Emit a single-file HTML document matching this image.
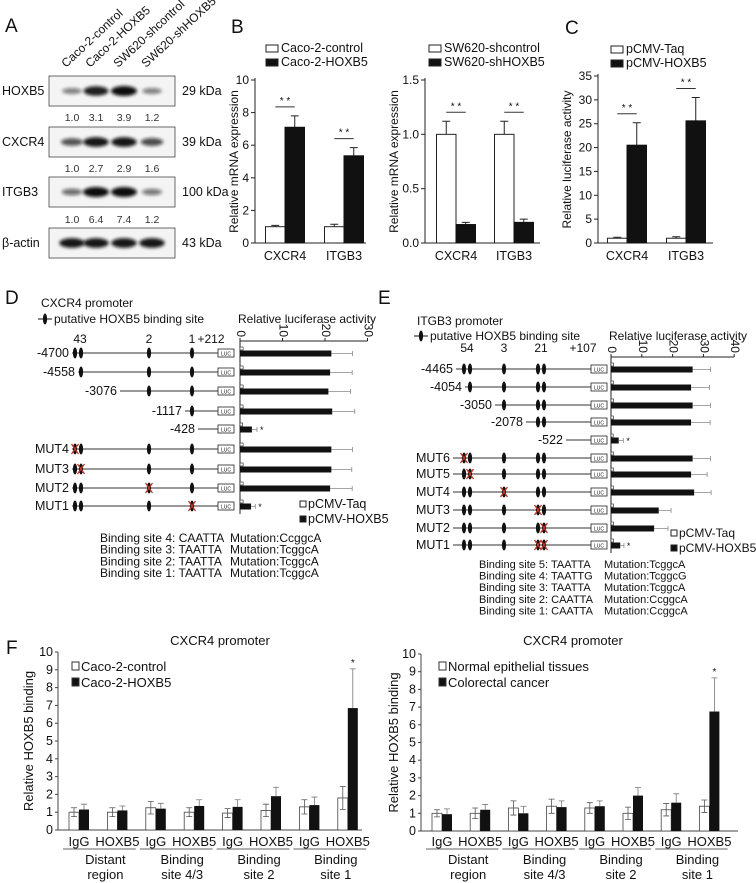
<!DOCTYPE html>
<html><head><meta charset="utf-8">
<style>
html,body{margin:0;padding:0;background:#fff;}
svg{display:block;font-family:"Liberation Sans",Arial,sans-serif;}
</style></head>
<body>
<svg id="fig" xmlns="http://www.w3.org/2000/svg" width="756" height="883" viewBox="0 0 756 883">
<defs><filter id="blur" x="-30%" y="-80%" width="160%" height="260%"><feGaussianBlur stdDeviation="1.6"/></filter></defs>
<rect x="0" y="0" width="756" height="883" fill="#fff"/>
<g font-size="19" fill="#111">
<text x="5" y="32">A</text>
<text x="231" y="33">B</text>
<text x="565" y="34">C</text>
<text x="5" y="304">D</text>
<text x="378" y="304">E</text>
<text x="6" y="654">F</text>
</g>
<g id="blot"></g>
<g id="chartB1"></g>
<g id="chartB2"></g>
<g id="chartC"></g>
<g id="chartD"></g>
<g id="chartE"></g>
<g id="chartF1"></g>
<g id="chartF2"></g>
</svg>
<script>
// ---------- data ----------
const blotLanes = ["Caco-2-control","Caco-2-HOXB5","SW620-shcontrol","SW620-shHOXB5"];
const blotRows = ["HOXB5","CXCR4","ITGB3","β-actin"];
const blotKda = ["29 kDa","39 kDa","100 kDa","43 kDa"];
const blotQuant = [["1.0","3.1","3.9","1.2"],["1.0","2.7","2.9","1.6"],["1.0","6.4","7.4","1.2"]];
const blotIntensity = [[0.35,0.9,1.0,0.35],[0.6,0.95,0.95,0.65],[0.45,1.0,1.0,0.4],[0.95,0.95,0.95,0.95]];

const geneCats = ["CXCR4","ITGB3"];
const b1Ctrl = [1.0,1.0], b1CtrlErr = [0.08,0.15], b1Treat = [7.1,5.35], b1TreatErr = [0.7,0.5];
const b1Ticks = [0,2,4,6,8,10];
const b2Ctrl = [1.0,1.0], b2CtrlErr = [0.12,0.12], b2Treat = [0.17,0.19], b2TreatErr = [0.02,0.03];
const b2Ticks = [0,0.5,1.0,1.5];
const cCtrl = [1.0,1.0], cCtrlErr = [0.2,0.3], cTreat = [20.5,25.6], cTreatErr = [4.7,4.9];
const cTicks = [0,5,10,15,20,25,30,35];

const dLabels = ["-4700","-4558","-3076","-1117","-428","MUT4","MUT3","MUT2","MUT1"];
const dTaq = [0.5,0.5,0.5,0.5,0.4,0.5,0.5,0.5,0.5];
const dHox = [21.5,21.2,20.8,21.7,2.8,21.5,21.5,21.2,2.6];
const dHoxErr = [5.0,5.2,5.2,5.3,1.2,5.0,4.8,5.2,1.0];
const dTicks = [0,10,20,30];

const eLabels = ["-4465","-4054","-3050","-2078","-522","MUT6","MUT5","MUT4","MUT3","MUT2","MUT1"];
const eTaq = [0.5,0.5,0.5,0.5,0.4,0.5,0.5,0.5,0.5,0.5,0.5];
const eHox = [26.5,26.0,26.5,26.0,2.5,26.5,26.0,27.0,15.5,14.0,3.0];
const eHoxErr = [5.8,6.0,5.8,6.2,1.5,5.8,5.2,5.5,4.0,4.5,1.2];
const eTicks = [0,10,20,30,40];

const fCats = ["IgG","HOXB5","IgG","HOXB5","IgG","HOXB5","IgG","HOXB5"];
const fGroups = [["Distant","region"],["Binding","site 4/3"],["Binding","site 2"],["Binding","site 1"]];
const f1Ctrl = [1.0,1.0,1.25,1.0,0.95,1.1,1.3,1.8];
const f1CtrlErr = [0.25,0.25,0.35,0.25,0.25,0.35,0.4,0.65];
const f1Treat = [1.15,1.1,1.2,1.35,1.3,1.9,1.4,6.85];
const f1TreatErr = [0.3,0.25,0.3,0.35,0.4,0.5,0.45,2.2];
const f2Ctrl = [1.0,1.0,1.3,1.4,1.3,1.0,1.2,1.4];
const f2CtrlErr = [0.2,0.3,0.4,0.4,0.3,0.35,0.35,0.35];
const f2Treat = [0.95,1.2,1.0,1.35,1.4,2.0,1.6,6.75];
const f2TreatErr = [0.3,0.3,0.4,0.35,0.3,0.45,0.5,1.9];
const fTicks = [0,1,2,3,4,5,6,7,8,9,10];

// ---------- helpers ----------
const NS = "http://www.w3.org/2000/svg";
function mk(parent, tag, attrs, txt){
  const el = document.createElementNS(NS, tag);
  for (const k in attrs) el.setAttribute(k, attrs[k]);
  if (txt !== undefined) el.textContent = txt;
  parent.appendChild(el);
  return el;
}
function named(el, name){
  
  
  return el;
}

// ---------- Panel A ----------
(function(){
  const g = document.getElementById('blot');
  const laneX = [72,96,124,152];
  const boxY = [76,127,177,228];
  const quantY = [121,172,223];
  blotLanes.forEach((t,i)=>{
    const el = mk(g,'text',{x:laneX[i]-6,y:68,'font-size':12,transform:`rotate(-43 ${laneX[i]-6} 68)`,fill:'#111'},t);
    named(el,'lane-label-'+i);
  });
  blotRows.forEach((r,i)=>{
    const box = mk(g,'rect',{x:49,y:boxY[i],width:126,height:30,fill:'#f4f4f4',stroke:'#444','stroke-width':0.8});
    named(box,'blot-box-'+i);
    blotIntensity[i].forEach((v,j)=>{
      const b = mk(g,'ellipse',{cx:laneX[j],cy:boxY[i]+15,rx:8+5*v,ry:2+3*v,fill:'#111','fill-opacity':0.25+0.75*v,filter:'url(#blur)'});
      named(b,'blot-band-'+i+'-'+j);
    });
    const lbl = mk(g,'text',{x:2,y:boxY[i]+19,'font-size':12.5,fill:'#111'},r);
    named(lbl,'blot-row-label-'+i);
    const kd = mk(g,'text',{x:182,y:boxY[i]+19,'font-size':12.5,fill:'#111'},blotKda[i]);
    named(kd,'blot-kda-'+i);
  });
  blotQuant.forEach((row,i)=>row.forEach((q,j)=>{
    const t = mk(g,'text',{x:laneX[j],y:quantY[i],'font-size':10.5,'text-anchor':'middle',fill:'#333'},q);
    named(t,'blot-quant-'+i+'-'+j);
  }));
})();

// ---------- grouped vertical bar charts (B, C) ----------
function vbar(id, o){
  const g = document.getElementById(id);
  const y = v => o.y0 - (v - 0) * (o.y0 - o.yTop) / o.max;
  const ax = mk(g,'path',{d:`M${o.ax} ${o.yTop-2}V${o.y0}H${o.axEnd}`,stroke:'#222',fill:'none','stroke-width':1});
  named(ax,'axes');
  o.ticks.forEach(t=>{
    const tk = mk(g,'line',{x1:o.ax-4,x2:o.ax,y1:y(t),y2:y(t),stroke:'#222'});
    named(tk,'y-tick');
    const tl = mk(g,'text',{x:o.ax-6,y:y(t)+4,'font-size':12,'text-anchor':'end',fill:'#111'},o.fmt(t));
    named(tl,'y-tick-label');
  });
  const yl = mk(g,'text',{x:o.ylx,y:(o.y0+o.yTop)/2,'font-size':12,'text-anchor':'middle',fill:'#111',transform:`rotate(-90 ${o.ylx} ${(o.y0+o.yTop)/2})`},o.ylabel);
  named(yl,'y-axis-title');
  const bw = o.bw;
  geneCats.forEach((c,i)=>{
    const x = o.cx[i];
    const wc = mk(g,'rect',{x:x-bw,y:y(o.ctrl[i]),width:bw,height:o.y0-y(o.ctrl[i]),fill:'#fff',stroke:'#222'});
    named(wc,'bar-control-'+c);
    const bt = mk(g,'rect',{x:x,y:y(o.treat[i]),width:bw,height:o.y0-y(o.treat[i]),fill:'#111',stroke:'#111'});
    named(bt,'bar-treated-'+c);
    const e1 = mk(g,'path',{d:`M${x-bw/2} ${y(o.ctrl[i])}V${y(o.ctrl[i]+o.ctrlErr[i])}M${x-bw/2-4} ${y(o.ctrl[i]+o.ctrlErr[i])}H${x-bw/2+4}`,stroke:'#222',fill:'none'});
    named(e1,'error-bar-control-'+c);
    const top = y(o.treat[i]+o.treatErr[i]);
    const e2 = mk(g,'path',{d:`M${x+bw/2} ${y(o.treat[i])}V${top}M${x+bw/2-4} ${top}H${x+bw/2+4}`,stroke:'#222',fill:'none'});
    named(e2,'error-bar-treated-'+c);
    const sy = Math.min(top, y(o.ctrl[i]+o.ctrlErr[i])) - 9;
    const sl = mk(g,'line',{x1:x-bw/2,x2:x+bw/2,y1:sy,y2:sy,stroke:'#333'});
    named(sl,'significance-line-'+c);
    const st = mk(g,'text',{x:x,y:sy-3,'font-size':10,'text-anchor':'middle',fill:'#111'},'* *');
    named(st,'significance-stars-'+c);
    const xl = mk(g,'text',{x:x,y:o.y0+17,'font-size':12.5,'text-anchor':'middle',fill:'#111'},c);
    named(xl,'x-label-'+c);
  });
  o.legend.forEach((t,i)=>{
    const b = mk(g,'rect',{x:o.lx,y:o.ly+i*14-7,width:12,height:7,fill:i?'#111':'#fff',stroke:'#222'});
    named(b,'legend-swatch-'+i);
    const lt = mk(g,'text',{x:o.lx+15,y:o.ly+i*14,'font-size':12.5,fill:'#111'},t);
    named(lt,'legend-entry-'+i);
  });
}
vbar('chartB1',{ax:255,axEnd:366,y0:243,yTop:80,max:10,ticks:b1Ticks,fmt:t=>String(t),ylx:238,ylabel:'Relative mRNA expression',bw:19.5,cx:[285,344],ctrl:b1Ctrl,ctrlErr:b1CtrlErr,treat:b1Treat,treatErr:b1TreatErr,legend:['Caco-2-control','Caco-2-HOXB5'],lx:266,ly:52});
vbar('chartB2',{ax:425,axEnd:540,y0:243,yTop:80,max:1.5,ticks:b2Ticks,fmt:t=>t.toFixed(1),ylx:398,ylabel:'Relative mRNA expression',bw:19.5,cx:[456,514],ctrl:b2Ctrl,ctrlErr:b2CtrlErr,treat:b2Treat,treatErr:b2TreatErr,legend:['SW620-shcontrol','SW620-shHOXB5'],lx:429,ly:52});
vbar('chartC',{ax:598,axEnd:713,y0:243,yTop:76,max:35,ticks:cTicks,fmt:t=>String(t),ylx:571,ylabel:'Relative luciferase activity',bw:19.5,cx:[627,686],ctrl:cCtrl,ctrlErr:cCtrlErr,treat:cTreat,treatErr:cTreatErr,legend:['pCMV-Taq','pCMV-HOXB5'],lx:611,ly:53});

// ---------- promoter panels (D, E) ----------
function site(g, x, y, mut, name){
  const e = mk(g,'ellipse',{cx:x,cy:y,rx:2.1,ry:5.5,fill:'#111'});
  named(e,name);
  if (mut){
    const m = mk(g,'path',{d:`M${x-3.5} ${y-5}L${x+3.5} ${y+5}M${x+3.5} ${y-5}L${x-3.5} ${y+5}`,stroke:'#c0392b','stroke-width':1.3,fill:'none'});
    named(m,name+'-mutation');
  }
}
function promoter(id, o){
  const g = document.getElementById(id);
  const xs = v => o.x0 + v * o.k;
  const t1 = mk(g,'text',{x:o.titleX,y:o.titleY,'font-size':12,fill:'#111'},o.title);
  named(t1,'promoter-title');
  site(g,o.titleX+4,o.legY-4,false,'legend-site-icon');
  const ll = mk(g,'line',{x1:o.titleX-3,x2:o.titleX+11,y1:o.legY-4,y2:o.legY-4,stroke:'#111'});
  named(ll,'legend-site-line');
  const lt = mk(g,'text',{x:o.titleX+13,y:o.legY,'font-size':12,fill:'#111'},'putative HOXB5 binding site');
  named(lt,'legend-site-label');
  const at = mk(g,'text',{x:o.x0-2,y:o.legY,'font-size':12,fill:'#111'},'Relative luciferase activity');
  named(at,'x-axis-title');
  o.siteNums.forEach(s=>{
    const t = mk(g,'text',{x:s[0],y:o.numY,'font-size':12,'text-anchor':'middle',fill:'#111'},s[1]);
    named(t,'site-number');
  });
  const ax = mk(g,'path',{d:`M${o.x0} ${o.rowY[o.rowY.length-1]+8}V${o.axY}H${xs(o.ticks[o.ticks.length-1])}`,stroke:'#222',fill:'none'});
  named(ax,'luciferase-axes');
  o.ticks.forEach(t=>{
    const tk = mk(g,'line',{x1:xs(t),x2:xs(t),y1:o.axY,y2:o.axY-3,stroke:'#222'});
    named(tk,'x-tick');
    const tl = mk(g,'text',{x:xs(t)-3,y:o.axY-4,'font-size':12,fill:'#111',transform:`rotate(90 ${xs(t)-3} ${o.axY-4})`,'text-anchor':'end'},String(t));
    named(tl,'x-tick-label');
  });
  o.labels.forEach((lab,i)=>{
    const y = o.rowY[i];
    const st = o.starts[i];
    const l = mk(g,'line',{x1:st,x2:o.lucX,y1:y,y2:y,stroke:'#333'});
    named(l,'promoter-line-'+lab);
    const tx = mk(g,'text',{x:st-3,y:y+4,'font-size':12.5,'text-anchor':'end',fill:'#111'},lab);
    named(tx,'row-label-'+lab);
    o.sites.forEach((sx,k)=>{ if (sx >= st) site(g,sx,y,o.mut[i]===k,'binding-site-'+lab+'-'+k); });
    const lb = mk(g,'rect',{x:o.lucX,y:y-4,width:16,height:8,fill:'#fff',stroke:'#222','stroke-width':0.8});
    named(lb,'luc-box-'+lab);
    const lx = mk(g,'text',{x:o.lucX+8,y:y+2.5,'font-size':5,'text-anchor':'middle',fill:'#111'},'LUC');
    named(lx,'luc-text-'+lab);
    const w = mk(g,'rect',{x:o.x0,y:y-6,width:xs(o.taq[i])-o.x0+1,height:3,fill:'#fff',stroke:'#222','stroke-width':0.6});
    named(w,'bar-taq-'+lab);
    const b = mk(g,'rect',{x:o.x0,y:y-2.5,width:xs(o.hox[i])-o.x0,height:6,fill:'#111'});
    named(b,'bar-hoxb5-'+lab);
    const eb = mk(g,'path',{d:`M${xs(o.hox[i])} ${y+0.5}H${xs(o.hox[i]+o.err[i])}M${xs(o.hox[i]+o.err[i])} ${y-2}V${y+3}`,stroke:'#888',fill:'none','stroke-width':0.8});
    named(eb,'error-bar-'+lab);
    if (o.hox[i] < 5){
      const s = mk(g,'text',{x:xs(o.hox[i]+o.err[i])+3,y:y+4,'font-size':9,fill:'#111'},'*');
      named(s,'significance-'+lab);
    }
  });
  o.legend.forEach((t,i)=>{
    const b = mk(g,'rect',{x:o.lgX,y:o.lgY+i*15-7,width:6,height:6,fill:i?'#111':'#fff',stroke:'#222'});
    named(b,'legend-swatch-'+i);
    const lt2 = mk(g,'text',{x:o.lgX+8,y:o.lgY+i*15,'font-size':o.lgFs,fill:'#111'},t);
    named(lt2,'legend-entry-'+i);
  });
  o.notes.forEach((n,i)=>{
    const a = mk(g,'text',{x:o.noteX1,y:o.noteY+i*o.noteDy,'font-size':o.noteFs,fill:'#111'},n[0]);
    named(a,'binding-site-note-'+i);
    const b = mk(g,'text',{x:o.noteX2,y:o.noteY+i*o.noteDy,'font-size':o.noteFs,fill:'#111'},n[1]);
    named(b,'mutation-note-'+i);
  });
}
promoter('chartD',{title:'CXCR4 promoter',titleX:41,titleY:307,legY:323,x0:240,k:4.25,axY:341,ticks:dTicks,numY:343,
  siteNums:[[80,'43'],[149,'2'],[192,'1'],[211,'+212']],
  labels:dLabels,rowY:[353,372,391,411,429,449,469,488,506],starts:[72,78,120,185,198,72,72,72,72],
  sites:[75,81,149,192],mut:[-1,-1,-1,-1,-1,0,1,2,3],lucX:218,taq:dTaq,hox:dHox,err:dHoxErr,
  legend:['pCMV-Taq','pCMV-HOXB5'],lgX:300,lgY:508,lgFs:12.5,
  notes:[['Binding site 4: CAATTA','Mutation:CcggcA'],['Binding site 3: TAATTA','Mutation:TcggcA'],['Binding site 2: TAATTA','Mutation:TcggcA'],['Binding site 1: TAATTA','Mutation:TcggcA']],
  noteX1:100,noteX2:230,noteY:542,noteDy:11.7,noteFs:12});
promoter('chartE',{title:'ITGB3 promoter',titleX:417,titleY:325,legY:340,x0:611,k:3.08,axY:357,ticks:eTicks,numY:352,
  siteNums:[[467,'54'],[504,'3'],[541,'21'],[583,'+107']],
  labels:eLabels,rowY:[369,387,405,422,440,458,474,492,510,528,545],starts:[456,465,495,526,566,453,453,453,453,453,453],
  sites:[464,470,504,538,544],mut:[-1,-1,-1,-1,-1,0,1,2,3,4,-2],lucX:591,taq:eTaq,hox:eHox,err:eHoxErr,
  legend:['pCMV-Taq','pCMV-HOXB5'],lgX:671,lgY:537,lgFs:12,
  notes:[['Binding site 5: TAATTA','Mutation:TcggcA'],['Binding site 4: TAATTG','Mutation:TcggcG'],['Binding site 3: TAATTA','Mutation:TcggcA'],['Binding site 2: CAATTA','Mutation:CcggcA'],['Binding site 1: CAATTA','Mutation:CcggcA']],
  noteX1:479,noteX2:604,noteY:568,noteDy:11.6,noteFs:11});
(function(){
  const g = document.getElementById('chartE');
  [538,544].forEach(x=>{
    const m = mk(g,'path',{d:`M${x-3.5} 540L${x+3.5} 550M${x+3.5} 540L${x-3.5} 550`,stroke:'#c0392b','stroke-width':1.3,fill:'none'});
    named(m,'binding-site-MUT1-mutation');
  });
})();

// ---------- Panel F ----------
function chip(id, o){
  const g = document.getElementById(id);
  const y = v => o.y0 - v * (o.y0 - o.yTop) / 10;
  const t = mk(g,'text',{x:o.titleX,y:645,'font-size':13,'text-anchor':'middle',fill:'#111'},'CXCR4 promoter');
  named(t,'chart-title');
  const ax = mk(g,'path',{d:`M${o.ax} ${o.yTop}V${o.y0}H${o.axEnd}`,stroke:'#444',fill:'none'});
  named(ax,'axes');
  fTicks.forEach(v=>{
    const tk = mk(g,'line',{x1:o.ax-3,x2:o.ax,y1:y(v),y2:y(v),stroke:'#444'});
    named(tk,'y-tick');
    const tl = mk(g,'text',{x:o.ax-5,y:y(v)+4,'font-size':12.5,'text-anchor':'end',fill:'#111'},String(v));
    named(tl,'y-tick-label');
  });
  const cy = (o.y0+o.yTop)/2;
  const yl = mk(g,'text',{x:o.ylx,y:cy,'font-size':13,'text-anchor':'middle',fill:'#111',transform:`rotate(-90 ${o.ylx} ${cy})`},'Relative HOXB5 binding');
  named(yl,'y-axis-title');
  fCats.forEach((c,i)=>{
    const x = o.x1 + i*o.step;
    const w = mk(g,'rect',{x:x,y:y(o.ctrl[i]),width:10,height:o.y0-y(o.ctrl[i]),fill:'#fff',stroke:'#444','stroke-width':0.8});
    named(w,'bar-control-'+i);
    const b = mk(g,'rect',{x:x+10,y:y(o.treat[i]),width:10,height:o.y0-y(o.treat[i]),fill:'#111'});
    named(b,'bar-treated-'+i);
    const e1 = mk(g,'path',{d:`M${x+5} ${y(o.ctrl[i]-o.ctrlErr[i])}V${y(o.ctrl[i]+o.ctrlErr[i])}M${x+2} ${y(o.ctrl[i]+o.ctrlErr[i])}H${x+8}M${x+2} ${y(o.ctrl[i]-o.ctrlErr[i])}H${x+8}`,stroke:'#555',fill:'none','stroke-width':0.8});
    named(e1,'error-bar-control-'+i);
    const top = y(o.treat[i]+o.treatErr[i]);
    const e2 = mk(g,'path',{d:`M${x+15} ${y(o.treat[i])}V${top}M${x+12} ${top}H${x+18}`,stroke:'#777',fill:'none','stroke-width':0.8});
    named(e2,'error-bar-treated-'+i);
    const xl = mk(g,'text',{x:x+10,y:846,'font-size':13,'text-anchor':'middle',fill:'#111'},c);
    named(xl,'x-label-'+i);
    if (o.treat[i] > 5){
      const s = mk(g,'text',{x:x+15,y:top-3,'font-size':10,'text-anchor':'middle',fill:'#111'},'*');
      named(s,'significance-star');
    }
  });
  fGroups.forEach((gr,j)=>{
    const x = o.x1 + j*2*o.step - 6;
    const ul = mk(g,'line',{x1:x,x2:x+2*o.step-4,y1:849,y2:849,stroke:'#666'});
    named(ul,'group-underline-'+j);
    const gt1 = mk(g,'text',{x:x+o.step+4,y:864,'font-size':13,'text-anchor':'middle',fill:'#111'},gr[0]);
    named(gt1,'group-label-'+j);
    const gt2 = mk(g,'text',{x:x+o.step+4,y:879,'font-size':13,'text-anchor':'middle',fill:'#111'},gr[1]);
    named(gt2,'group-label-'+j+'-line2');
  });
  o.legend.forEach((t2,i)=>{
    const b = mk(g,'rect',{x:o.lx,y:662+i*16,width:7,height:8,fill:i?'#111':'#fff',stroke:'#333'});
    named(b,'legend-swatch-'+i);
    const lt = mk(g,'text',{x:o.lx+9,y:671+i*16,'font-size':13,fill:'#111'},t2);
    named(lt,'legend-entry-'+i);
  });
}
chip('chartF1',{ax:58,axEnd:362,y0:830,yTop:652,x1:69,step:38.4,titleX:220,ylx:33,ctrl:f1Ctrl,ctrlErr:f1CtrlErr,treat:f1Treat,treatErr:f1TreatErr,legend:['Caco-2-control','Caco-2-HOXB5'],lx:72});
chip('chartF2',{ax:421,axEnd:738,y0:831,yTop:654,x1:432,step:38.2,titleX:573,ylx:398,ctrl:f2Ctrl,ctrlErr:f2CtrlErr,treat:f2Treat,treatErr:f2TreatErr,legend:['Normal epithelial tissues','Colorectal cancer'],lx:439});
</script>
</body></html>
